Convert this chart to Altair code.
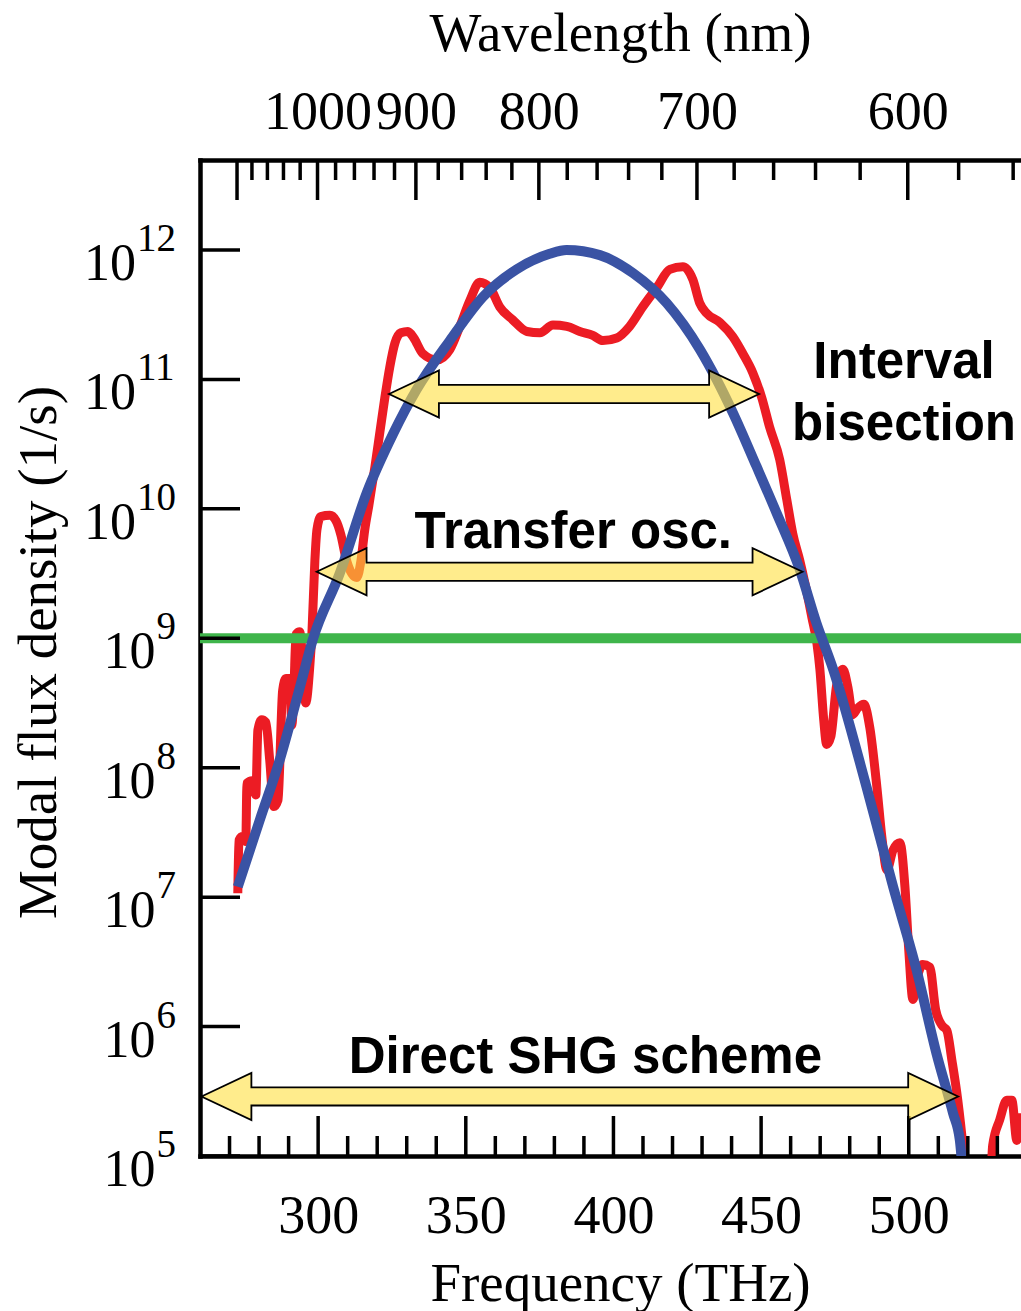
import altair as alt
import pandas as pd

C = 299792.458  # nm*THz

# ---- red measured spectrum: frequency (THz), log10(flux)
red_f = [272.8, 273.2, 274.5, 275.5, 275.9, 277.6, 278.9, 279.6, 280.9, 282.3, 283.6, 285.0, 286.4,
         288.0, 289.1, 290.4, 291.1, 291.8, 292.5, 293.8, 295.8, 297.2, 297.9, 298.9, 299.6, 300.9,
         304.0, 306.0, 307.7, 309.4, 311.4, 313.1, 314.5, 315.8, 317.2, 319.2, 320.9, 322.6, 324.3,
         326.0, 328.0, 330.4, 332.4, 335.4, 340.2, 344.6, 348.0, 351.4, 354.7, 358.1, 361.5, 365.9,
         370.7, 375.1, 379.5, 384.2, 388.6, 393.0, 396.4, 401.1, 405.5, 409.9, 414.7, 419.1, 423.5,
         426.9, 429.2, 431.6, 436.0, 440.4, 443.8, 447.2, 450.2, 452.9, 456.3, 458.7, 460.7, 463.1,
         464.8, 467.2, 468.9, 469.9, 471.2, 472.2, 473.6, 475.6, 477.7, 479.4, 481.0, 482.7, 484.8,
         486.8, 489.2, 490.9, 492.6, 494.6, 497.0, 498.7, 500.0, 501.4, 503.1, 504.7, 507.1, 509.1,
         511.2, 512.9, 514.6, 516.6, 518.3, 519.3, 522.3, 527.4, 528.4, 530.8, 533.2, 534.9, 536.6,
         537.6]
red_lg = [7.03, 7.44, 7.47, 7.43, 7.88, 7.90, 7.79, 8.29, 8.37, 8.35, 8.06, 7.70, 7.75,
          8.60, 8.69, 8.69, 8.33, 8.60, 9.03, 9.05, 8.50, 8.79, 9.04, 9.60, 9.84, 9.94,
          9.95, 9.91, 9.80, 9.62, 9.50, 9.47, 9.60, 9.84, 10.03, 10.32, 10.59, 10.86, 11.10,
          11.28, 11.36, 11.37, 11.32, 11.20, 11.15, 11.23, 11.41, 11.61, 11.75, 11.71, 11.56, 11.46,
          11.37, 11.36, 11.42, 11.41, 11.37, 11.34, 11.30, 11.32, 11.41, 11.56, 11.71, 11.85, 11.87,
          11.77, 11.59, 11.51, 11.44, 11.33, 11.20, 11.05, 10.86, 10.63, 10.38, 10.07, 9.81, 9.60,
          9.43, 9.16, 8.96, 8.76, 8.37, 8.18, 8.24, 8.64, 8.76, 8.62, 8.41, 8.46, 8.49,
          8.31, 7.85, 7.46, 7.21, 7.36, 7.42, 7.08, 6.59, 6.21, 6.40, 6.48, 6.46, 6.13,
          6.01, 5.97, 5.74, 5.43, 5.08, 4.81, 4.66, 4.66, 5.08, 5.28, 5.43, 5.43, 5.12,
          5.33]

# ---- blue fitted envelope
blue_f = [272.8, 280.3, 287.0, 293.8, 298.2, 307.3, 316.4, 325.4, 333.3, 344.6, 355.9, 367.2,
          378.4, 384.1, 395.4, 406.7, 418.0, 429.3, 434.9, 440.5, 448.4, 455.2, 463.1, 468.7,
          474.4, 485.7, 494.7, 502.6, 509.4, 515.0, 517.3, 518.0]
blue_lg = [7.08, 7.60, 8.06, 8.62, 8.99, 9.50, 10.12, 10.58, 10.92, 11.30, 11.64, 11.85,
           11.97, 12.00, 11.96, 11.82, 11.59, 11.23, 11.00, 10.74, 10.33, 9.97, 9.53, 9.12,
           8.76, 7.85, 7.08, 6.44, 5.79, 5.33, 5.12, 4.95]

threshold = [1e9]

# ---- axes
freq_major = [300, 350, 400, 450, 500]
freq_minor = [270, 280, 290, 310, 320, 330, 340, 360, 370, 380, 390, 410, 420, 430, 440,
              460, 470, 480, 490, 510, 520, 530]
wl_labels = [1000, 900, 800, 700, 600]
wl_major = [1100, 1000, 900, 800, 700, 600]
wl_minor = [1080, 1060, 1040, 1020, 980, 960, 940, 920, 880, 860, 840, 820, 780, 760, 740, 720,
            680, 660, 640, 620, 580, 560]
decades = [5, 6, 7, 8, 9, 10, 11, 12]

# ---- arrows (tips in THz, centre in log10 flux)
arrow_names = ["Interval", "Transfer", "Direct"]
arrow_left = [324.0, 299.5, 260.5]
arrow_right = [449.3, 464.0, 516.7]
arrow_lg = [10.887, 9.514, 5.46]

# ---- annotation text
note_text = ["Interval", "bisection", "Transfer osc.", "Direct SHG scheme"]
note_f = [498.4, 498.4, 386.4, 390.5]
note_lg = [11.009, 10.532, 9.695, 5.641]

SERIF = "Liberation Serif"
SANS = "Liberation Sans"
W, H = 821, 996

xscale = alt.Scale(domain=[260, 538], nice=False, zero=False)
yscale = alt.Scale(type="log", domain=[1e5, 10 ** 12.695], nice=False)

red_df = pd.DataFrame({"f": red_f, "lg": red_lg})
blue_df = pd.DataFrame({"f": blue_f, "lg": blue_lg})

# arrow outlines (closed polygons)
HL = 16.9      # head length in THz
HH = 0.182     # head half-height in decades
SH = 0.070     # shaft half-height in decades
rows = []
for name, xl, xr, c in zip(arrow_names, arrow_left, arrow_right, arrow_lg):
    pts = [(xl, 0), (xl + HL, HH), (xl + HL, SH), (xr - HL, SH), (xr - HL, HH), (xr, 0),
           (xr - HL, -HH), (xr - HL, -SH), (xl + HL, -SH), (xl + HL, -HH)]
    for i, (xx, h) in enumerate(pts):
        rows.append({"arrow": name, "i": i, "f": xx, "v": 10 ** (c + h)})
arrow_df = pd.DataFrame(rows)

note_df = pd.DataFrame({"t": note_text, "f": note_f, "lg": note_lg})

red = alt.Chart(red_df).transform_calculate(v="pow(10, datum.lg)").mark_line(
    color="#EC1C24", strokeWidth=9, clip=True, strokeJoin="round", interpolate="monotone"
).encode(
    x=alt.X("f:Q", scale=xscale, axis=alt.Axis(
        orient="bottom", values=freq_major, title="Frequency (THz)", ticks=False, grid=False,
        domain=True, domainColor="black", domainWidth=4.5, domainCap="square",
        labelFont=SERIF, labelFontSize=54, labelColor="black", labelBaseline="alphabetic",
        labelPadding=76, labelFlush=False, labelOverlap=False,
        titleFont=SERIF, titleFontSize=55, titleFontWeight="normal", titleColor="black",
        titleX=420, titleY=144, titleBaseline="alphabetic", titleAlign="center")),
    y=alt.Y("v:Q", scale=yscale, axis=alt.Axis(
        orient="left", values=[10 ** d for d in decades], labels=False, ticks=False, grid=False,
        domain=True, domainColor="black", domainWidth=4.5, domainCap="square",
        title="Modal flux density (1/s)", titleFont=SERIF, titleFontSize=55,
        titleFontWeight="normal", titleColor="black", titleAngle=-90,
        titleX=-145, titleY=492, titleBaseline="alphabetic", titleAlign="center")),
)

green = alt.Chart(pd.DataFrame({"v": threshold})).mark_rule(
    color="#3FB54B", strokeWidth=10
).encode(y=alt.Y("v:Q", scale=yscale, axis=None))

blue = alt.Chart(blue_df).transform_calculate(v="pow(10, datum.lg)").mark_line(
    color="#3A53A4", strokeWidth=10, clip=True, strokeJoin="round", interpolate="monotone"
).encode(
    x=alt.X("f:Q", scale=xscale, axis=alt.Axis(
        orient="top", values=[C / w for w in wl_labels],
        labelExpr="round(299792.458 / datum.value)", ticks=False, grid=False,
        domain=True, domainColor="black", domainWidth=4.5, domainCap="square",
        labelFont=SERIF, labelFontSize=54, labelColor="black", labelBaseline="alphabetic",
        labelPadding=32, labelFlush=False, labelOverlap=False,
        title="Wavelength (nm)", titleFont=SERIF, titleFontSize=55, titleFontWeight="normal",
        titleColor="black", titleX=420, titleY=-110, titleBaseline="alphabetic",
        titleAlign="center")),
    y=alt.Y("v:Q", scale=yscale, axis=None),
)


def xticks(df, y0, y1):
    return alt.Chart(df).mark_rule(color="black", strokeWidth=3.5).encode(
        x=alt.X("f:Q", scale=xscale, axis=None), y=alt.value(y0), y2=alt.value(y1))


bot_major = xticks(pd.DataFrame({"f": freq_major}), H, H - 40)
bot_minor = xticks(pd.DataFrame({"f": freq_minor}), H, H - 20)
top_major = alt.Chart(pd.DataFrame({"nm": wl_major})).transform_calculate(
    f="299792.458 / datum.nm").mark_rule(color="black", strokeWidth=3.5).encode(
    x=alt.X("f:Q", scale=xscale, axis=None), y=alt.value(0), y2=alt.value(40))
top_minor = alt.Chart(pd.DataFrame({"nm": wl_minor})).transform_calculate(
    f="299792.458 / datum.nm").mark_rule(color="black", strokeWidth=3.5).encode(
    x=alt.X("f:Q", scale=xscale, axis=None), y=alt.value(0), y2=alt.value(20))
yticks = alt.Chart(pd.DataFrame({"e": decades})).transform_calculate(
    v="pow(10, datum.e)").mark_rule(color="black", strokeWidth=3.5).encode(
    y=alt.Y("v:Q", scale=yscale, axis=None), x=alt.value(0), x2=alt.value(40))

# y tick labels "10" with superscript exponent
ylab_base = alt.Chart(pd.DataFrame({"e": decades})).transform_calculate(
    v="pow(10, datum.e)", s="toString(datum.e)",
    ex="-24 - 19.5 * length(toString(datum.e))", tx="-25 - 19.5 * length(toString(datum.e))")
ylab10 = ylab_base.mark_text(font=SERIF, fontSize=52, align="right", baseline="alphabetic",
                             dy=30, color="black").encode(
    x=alt.X("tx:Q", scale=None), y=alt.Y("v:Q", scale=yscale, axis=None), text=alt.value("10"))
ylabexp = ylab_base.mark_text(font=SERIF, fontSize=39, align="left", baseline="alphabetic",
                              dy=1, color="black").encode(
    x=alt.X("ex:Q", scale=None), y=alt.Y("v:Q", scale=yscale, axis=None), text="s:N")

arrows = alt.Chart(arrow_df).mark_line(
    interpolate="linear-closed", fill="#FFDF3F", fillOpacity=0.6, stroke="black",
    strokeWidth=1.8, strokeJoin="miter", clip=False
).encode(
    x=alt.X("f:Q", scale=xscale, axis=None),
    y=alt.Y("v:Q", scale=yscale, axis=None),
    detail="arrow:N",
    order="i:Q",
)

notes = alt.Chart(note_df).transform_calculate(v="pow(10, datum.lg)").mark_text(
    font=SANS, fontWeight="bold", fontSize=51, align="center", baseline="alphabetic",
    color="black"
).encode(
    x=alt.X("f:Q", scale=xscale, axis=None),
    y=alt.Y("v:Q", scale=yscale, axis=None),
    text="t:N",
)

chart = alt.layer(
    red, green, blue, bot_major, bot_minor, top_major, top_minor, yticks,
    arrows, notes, ylab10, ylabexp
).resolve_axis(x="independent", y="independent").properties(
    width=W, height=H,
    autosize=alt.AutoSizeParams(type="none"),
    padding={"left": 200, "top": 160, "right": 0, "bottom": 155},
    background="white",
).configure_view(stroke=None)

chart.save("out.html", embed_options={"renderer": "svg", "actions": False})
